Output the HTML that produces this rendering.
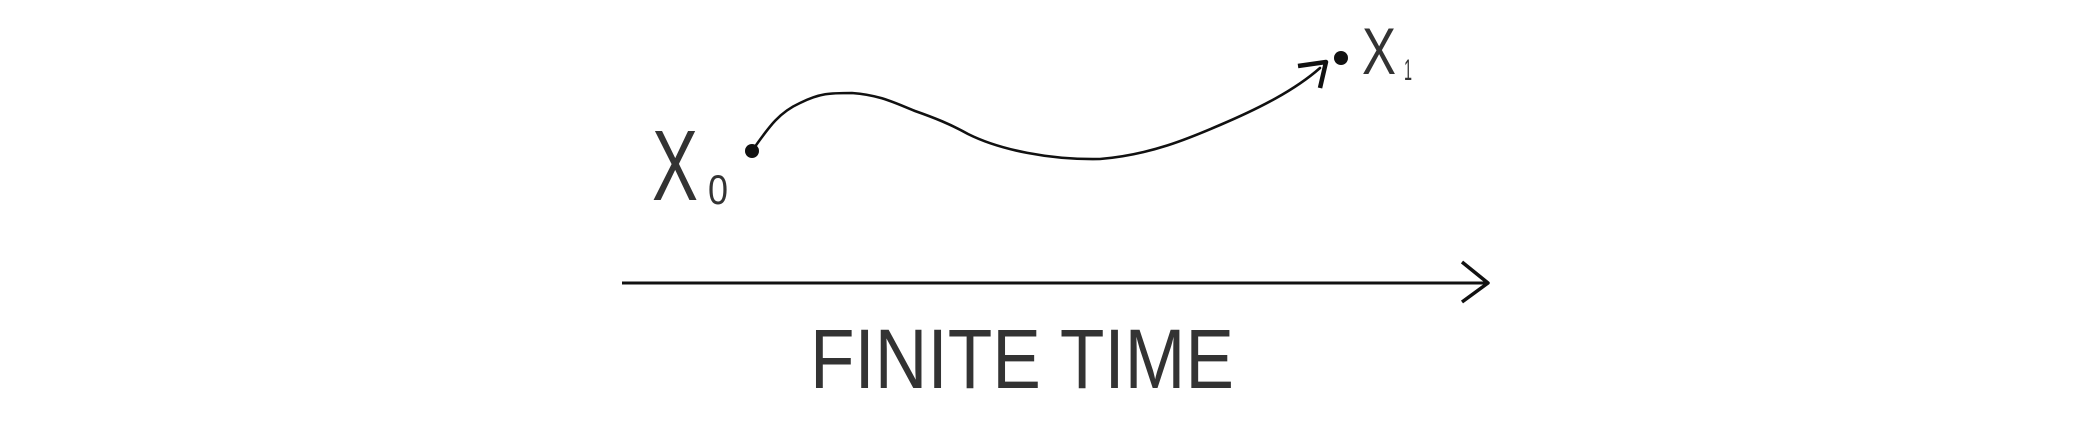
<!DOCTYPE html>
<html><head><meta charset="utf-8"><style>
html,body{margin:0;padding:0;background:#fff;width:2098px;height:424px;overflow:hidden}
svg{display:block}
text{font-family:"Liberation Sans Narrow","Liberation Sans",sans-serif;fill:#333}
</style></head><body>
<svg width="2098" height="424" viewBox="0 0 2098 424">
  <path d="M752,151 C770,125 780,112 800,103 C820,93 830,93 852,93 C880,95 895,103 915,111 C935,118 950,124 968,134 C1000,150 1050,160 1100,159 C1150,155 1190,138 1220,125 C1260,108 1295,90 1320,68" fill="none" stroke="#111" stroke-width="2.6" stroke-linecap="round"/>
  <path d="M1298,66 L1326,62 L1320,88" fill="none" stroke="#111" stroke-width="4.5" stroke-linejoin="round"/>
  <circle cx="752" cy="151" r="7" fill="#111"/>
  <circle cx="1341" cy="58" r="7" fill="#111"/>
  <text x="652" y="200" font-size="100" textLength="46" lengthAdjust="spacingAndGlyphs">X</text>
  <text x="708" y="204" font-size="42" textLength="20" lengthAdjust="spacingAndGlyphs">0</text>
  <text x="1362" y="74" font-size="66" textLength="34" lengthAdjust="spacingAndGlyphs">X</text>
  <text x="1404" y="80" font-size="30" textLength="8" lengthAdjust="spacingAndGlyphs">1</text>
  <line x1="622" y1="283" x2="1486" y2="283" stroke="#111" stroke-width="3"/>
  <path d="M1462,262 L1488,283 L1462,302" fill="none" stroke="#111" stroke-width="3.5" stroke-linejoin="round"/>
  <text x="810" y="388" font-size="84" textLength="424" lengthAdjust="spacingAndGlyphs">FINITE  TIME</text>
</svg>
</body></html>
